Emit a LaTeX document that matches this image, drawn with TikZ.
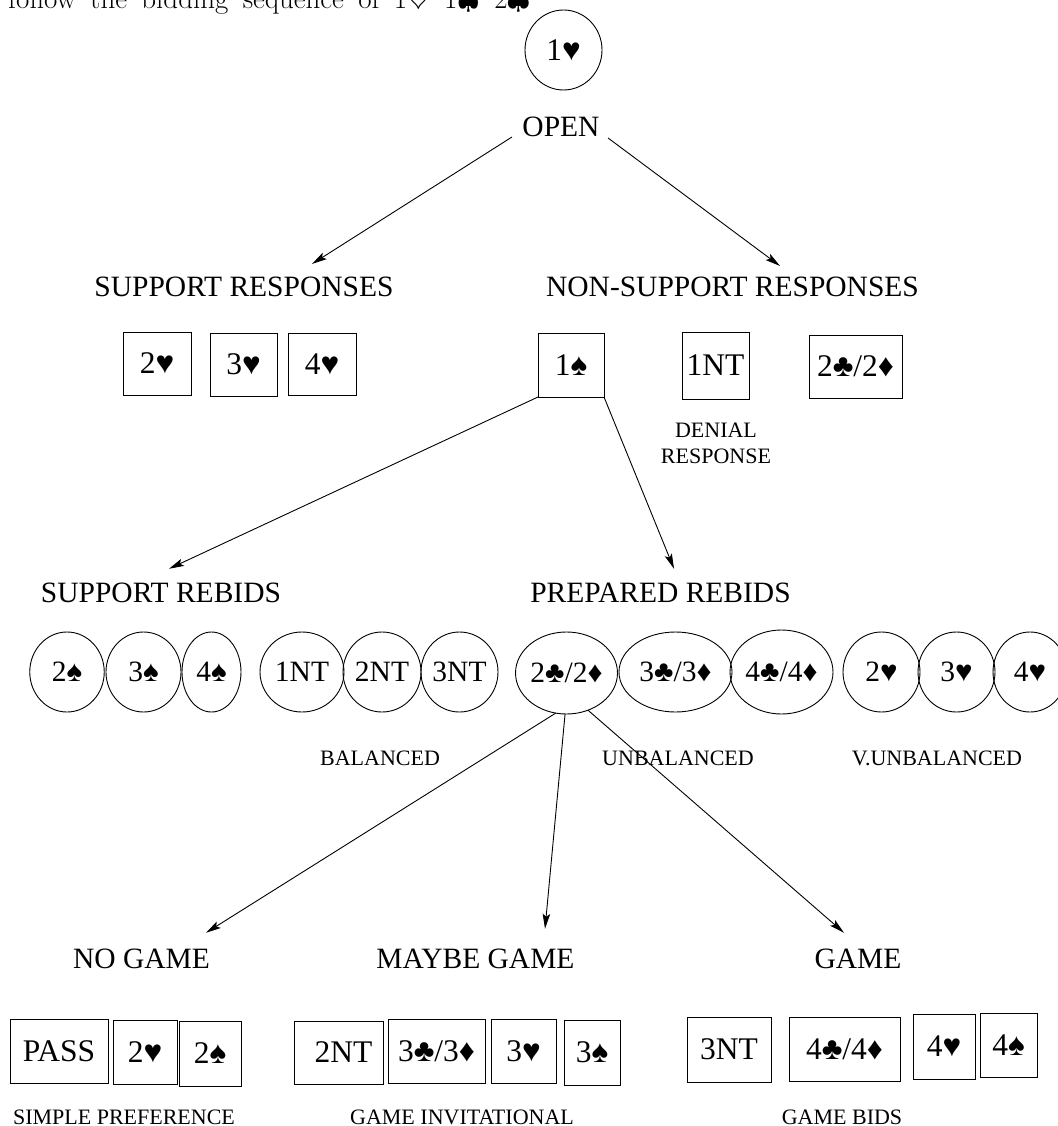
\RequirePackage{fix-cm}
\documentclass[tikz,border=0pt]{standalone}
\usepackage{fontspec}
\setmainfont{Liberation Serif}
\newfontfamily\capfont{Latin Modern Roman}
\usetikzlibrary{shapes.geometric,arrows.meta,calc}

\tikzset{
  lbl/.style={inner sep=0pt, outer sep=0pt, anchor=base, font=\fontsize{29.5}{34}\selectfont},
  note/.style={inner sep=0pt, outer sep=0pt, anchor=base, font=\fontsize{22}{26}\selectfont},
  card/.style={draw, rectangle, line width=1pt, inner sep=0pt, outer sep=0pt, font=\fontsize{31.5}{36}\selectfont},
  bid/.style={draw, ellipse, line width=0.9pt, inner sep=0pt, outer sep=0pt, font=\fontsize{29.5}{34}\selectfont},
  link/.style={line width=0.9pt},
  arr/.style={link, -{Stealth[length=15pt,width=7.5pt,inset=3pt]}}
}

\begin{document}
\begin{tikzpicture}[x=1pt,y=-1pt]
\useasboundingbox (0,0) rectangle (1057,1126);
\fill[white] (0,0) rectangle (1057,1126);

% running text above the chart
\node[anchor=base west, inner sep=0pt, font=\capfont\fontsize{29}{35}\selectfont] (caption) at (8,8.5)
  {\makebox[522pt][s]{follow the bidding sequence of 1$\heartsuit$ 1$\spadesuit$ 2$\clubsuit$}};

% opening bid
\node[bid, minimum width=77pt, minimum height=80pt, font=\fontsize{31.5}{36}\selectfont] (open1h) at (563.5,50) {1♥};
\node[lbl] (open) at (561,137) {OPEN};

% responses
\node[lbl] (supresp) at (244,296.5) {SUPPORT RESPONSES};
\node[lbl] (nonsupresp) at (732.5,296.5) {NON-SUPPORT RESPONSES};

\node[card, minimum width=68pt, minimum height=63pt] (r2h) at (157,363.5) {2♥};
\node[card, minimum width=67pt, minimum height=63pt] (r3h) at (243.5,364.5) {3♥};
\node[card, minimum width=68pt, minimum height=62pt] (r4h) at (322,364) {4♥};
\node[card, minimum width=66pt, minimum height=64pt] (r1s) at (571,365) {1♠};
\node[card, minimum width=67pt, minimum height=67pt] (r1nt) at (715.5,365.5) {1NT};
\node[card, minimum width=93pt, minimum height=63pt] (r2m) at (855.5,366.5) {2♣/2♦};
\node[inner sep=0pt, align=center, font=\fontsize{22}{26}\selectfont] (denial) at (716,443.8) {DENIAL\\RESPONSE};

% rebids
\node[lbl] (suprebid) at (161,602) {SUPPORT REBIDS};
\node[lbl] (preprebid) at (660.5,602) {PREPARED REBIDS};

\node[bid, minimum width=74.5pt, minimum height=80pt] (e2s) at (67,672) {2♠};
\node[bid, minimum width=75pt, minimum height=80pt] (e3s) at (143.5,672) {3♠};
\node[bid, minimum width=59pt, minimum height=80pt] (e4s) at (211.5,672) {4♠};
\node[bid, minimum width=84pt, minimum height=80pt] (e1nt) at (302,672) {1NT};
\node[bid, minimum width=78pt, minimum height=80pt] (e2nt) at (382,672) {2NT};
\node[bid, minimum width=77pt, minimum height=80pt] (e3nt) at (459.5,672) {3NT};
\node[bid, minimum width=101pt, minimum height=82pt] (e2m) at (566.5,673) {2♣/2♦};
\node[bid, minimum width=113pt, minimum height=80pt] (e3m) at (675.5,672) {3♣/3♦};
\node[bid, minimum width=103pt, minimum height=84pt] (e4m) at (781.5,672) {4♣/4♦};
\node[bid, minimum width=77pt, minimum height=80pt] (e2h) at (881.5,672) {2♥};
\node[bid, minimum width=77pt, minimum height=80pt] (e3h) at (956.5,672) {3♥};
\node[bid, minimum width=74pt, minimum height=80pt] (e4h) at (1030,672) {4♥};

\node[note] (bal) at (380,765) {BALANCED};
\node[note] (unbal) at (678,765) {UNBALANCED};
\node[note] (vunbal) at (937,765) {V.UNBALANCED};

% continuations
\node[lbl] (nogame) at (141.5,968) {NO GAME};
\node[lbl] (maybe) at (475.5,968) {MAYBE GAME};
\node[lbl] (game) at (858,968) {GAME};

\node[card, minimum width=98pt, minimum height=64pt] (bpass) at (59,1051) {PASS};
\node[card, minimum width=64pt, minimum height=64pt] (b2h) at (145,1052) {2♥};
\node[card, minimum width=62pt, minimum height=65pt] (b2s) at (210,1053.5) {2♠};
\node[card, minimum width=89pt, minimum height=63pt] (b2nt) at (338.5,1052.5) {\hspace*{10pt}2NT};
\node[card, minimum width=97pt, minimum height=64pt] (b3m) at (436.5,1051) {3♣/3♦};
\node[card, minimum width=65pt, minimum height=64pt] (b3h) at (523.5,1051) {3♥};
\node[card, minimum width=56pt, minimum height=65pt] (b3s) at (592,1052.5) {3♠};
\node[card, minimum width=84pt, minimum height=65pt] (b3nt) at (729,1049.5) {3NT};
\node[card, minimum width=111pt, minimum height=64pt] (b4m) at (844.5,1049) {4♣/4♦};
\node[card, minimum width=62pt, minimum height=65pt] (b4h) at (944,1046.5) {4♥};
\node[card, minimum width=57pt, minimum height=64pt] (b4s) at (1008.5,1045) {4♠};

\node[note] (simple) at (124,1124) {SIMPLE PREFERENCE};
\node[note] (invit) at (462,1124) {GAME INVITATIONAL};
\node[note] (gbids) at (842,1124) {GAME BIDS};

% connectors
\draw[arr] ([xshift=-10.5pt]open.base west) -- ([xshift=68pt,yshift=13pt]supresp.north);
\draw[arr] ([xshift=8.5pt,yshift=-1pt]open.base east) -- ([xshift=47.5pt,yshift=11pt]nonsupresp.north);

\draw[arr] (r1s.south west) -- ([xshift=8pt,yshift=13.7pt]suprebid.north);
\draw[arr] (r1s.south east) -- ([xshift=13.5pt,yshift=13.7pt]preprebid.north);

\draw[arr] (e2m.255) -- ([xshift=64.5pt,yshift=15.7pt]nogame.north);
\draw[arr] (e2m.268) -- ([xshift=69.5pt,yshift=19.7pt]maybe.north);
\draw[arr] (e2m.300) -- ([xshift=-14pt,yshift=15.7pt]game.north);
\end{tikzpicture}
\end{document}
